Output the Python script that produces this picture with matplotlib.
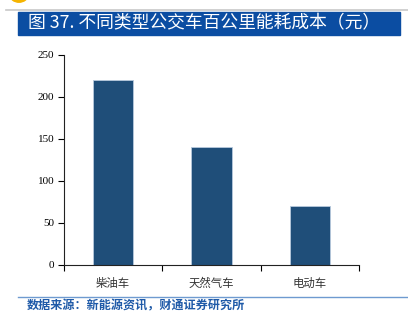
import matplotlib.pyplot as plt
from matplotlib.patches import Rectangle, Circle

plt.rcParams['font.family'] = ['Noto Sans CJK SC', 'DejaVu Sans']

# 各类型公交车百公里能耗成本（元）
categories = ["柴油车", "天然气车", "电动车"]
costs = [220, 140, 70]
yticks = [0, 50, 100, 150, 200, 250]

W, H = 408, 327
fig = plt.figure(figsize=(W / 100, H / 100), dpi=100)

# title band
fig.patches.append(Rectangle((18 / W, 1 - 35 / H), 382 / W, 23 / H,
                             transform=fig.transFigure, color="#0B4DA2", zorder=0))
fig.lines.append(plt.Line2D([6 / W, 1], [1 - 10 / H, 1 - 10 / H], transform=fig.transFigure,
                            color="#C8C8C8", lw=1.2))
fig.patches.append(Circle((19 / W, 1 + 5 / H), 9 / W, transform=fig.transFigure,
                          color="#F5B400", zorder=1))
fig.text(28 / W, 1 - 23.5 / H, "图 37. 不同类型公交车百公里能耗成本（元）",
         color="white", fontsize=12.8, va="center", ha="left")

ax = fig.add_axes([64 / W, 1 - 265 / H, (359 - 64) / W, 210 / H])
x = range(len(categories))
ax.bar(x, costs, width=0.41, color="#1F4E79", edgecolor="#B7C9DD", linewidth=0.6)
ax.set_xlim(-0.5, 2.5)
ax.set_ylim(0, 250)
ax.set_yticks(yticks)
ax.set_yticklabels([str(v) for v in yticks], fontfamily="Liberation Serif", fontsize=8)
ax.set_xticks([-0.5, 0.5, 1.5, 2.5])
ax.set_xticklabels([])
ax.set_xticks(list(x), minor=True)
ax.set_xticklabels(categories, minor=True, fontsize=8.2, color="#333333")
ax.tick_params(axis="x", which="minor", length=0, pad=9)
ax.tick_params(axis="x", which="major", length=4, direction="out")
ax.tick_params(axis="y", length=4, direction="out", pad=3)
for side in ("top", "right"):
    ax.spines[side].set_visible(False)
for side in ("left", "bottom"):
    ax.spines[side].set_linewidth(0.8)
    ax.spines[side].set_color("#222222")

# source line
fig.lines.append(plt.Line2D([18 / W, 1], [1 - 297 / H, 1 - 297 / H], transform=fig.transFigure,
                            color="#6E9AD0", lw=1.0))
fig.text(27 / W, 1 - 306 / H, "数据来源：新能源资讯，财通证券研究所",
         color="#1F5AA8", fontsize=8.7, fontweight="bold", va="center", ha="left")

fig.savefig("out.png", dpi=100)
